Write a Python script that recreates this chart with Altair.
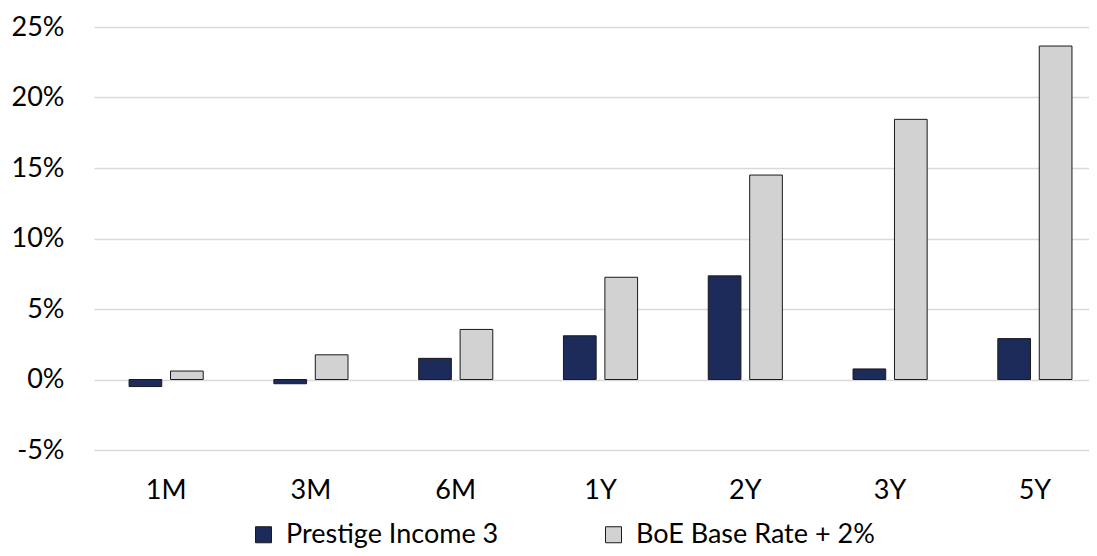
import altair as alt
import pandas as pd

periods = ["1M", "3M", "6M", "1Y", "2Y", "3Y", "5Y"]
series = ["Prestige Income 3", "BoE Base Rate + 2%"]
prestige = [-0.5, -0.3, 1.5, 3.1, 7.35, 0.75, 2.9]
boe = [0.6, 1.75, 3.55, 7.25, 14.5, 18.45, 23.65]
y_ticks = [-5, 0, 5, 10, 15, 20, 25]
colors = ["#1c2b59", "#d1d2d1"]

rows = []
for p, a, b in zip(periods, prestige, boe):
    rows.append({"period": p, "series": series[0], "value": a})
    rows.append({"period": p, "series": series[1], "value": b})
df = pd.DataFrame(rows)

FONT = "Lato"

chart = alt.Chart(df).mark_bar(stroke="#1a1a1a", strokeWidth=1).encode(
    x=alt.X("period:N", sort=periods,
            scale=alt.Scale(paddingInner=0.488, paddingOuter=0.18, align=0.673),
            axis=alt.Axis(title=None, labelAngle=0, domain=False, ticks=False,
                          labelFontSize=27, labelPadding=27, labelFont=FONT,
                          labelColor="#000000", grid=False)),
    xOffset=alt.XOffset("series:N", sort=series,
                        scale=alt.Scale(paddingInner=0.211, paddingOuter=0)),
    y=alt.Y("value:Q",
            scale=alt.Scale(domain=[-5, 25], nice=False, zero=False),
            axis=alt.Axis(title=None, values=y_ticks, labelExpr="datum.value + '%'",
                          grid=True, gridColor="#d9d9d9", gridWidth=1.5,
                          domain=False, ticks=False, labelFontSize=27,
                          labelFont=FONT, labelColor="#000000", labelPadding=30)),
    color=alt.Color("series:N", sort=series,
                    scale=alt.Scale(domain=series, range=colors),
                    legend=alt.Legend(title=None, orient="none", direction="horizontal",
                                      legendX=156, legendY=494,
                                      symbolType="square", symbolSize=256,
                                      symbolStrokeColor="#1a1a1a", symbolStrokeWidth=1,
                                      labelFontSize=27, labelFont=FONT, labelColor="#000000",
                                      labelOffset=9, labelLimit=0, columnPadding=101)),
).properties(
    width=995, height=423,
    autosize=alt.AutoSizeParams(type="none"),
    padding={"left": 86, "top": 19, "right": 0, "bottom": 98},
).configure_view(stroke=None)

chart.save("out.html", embed_options={"renderer": "svg", "actions": False})
